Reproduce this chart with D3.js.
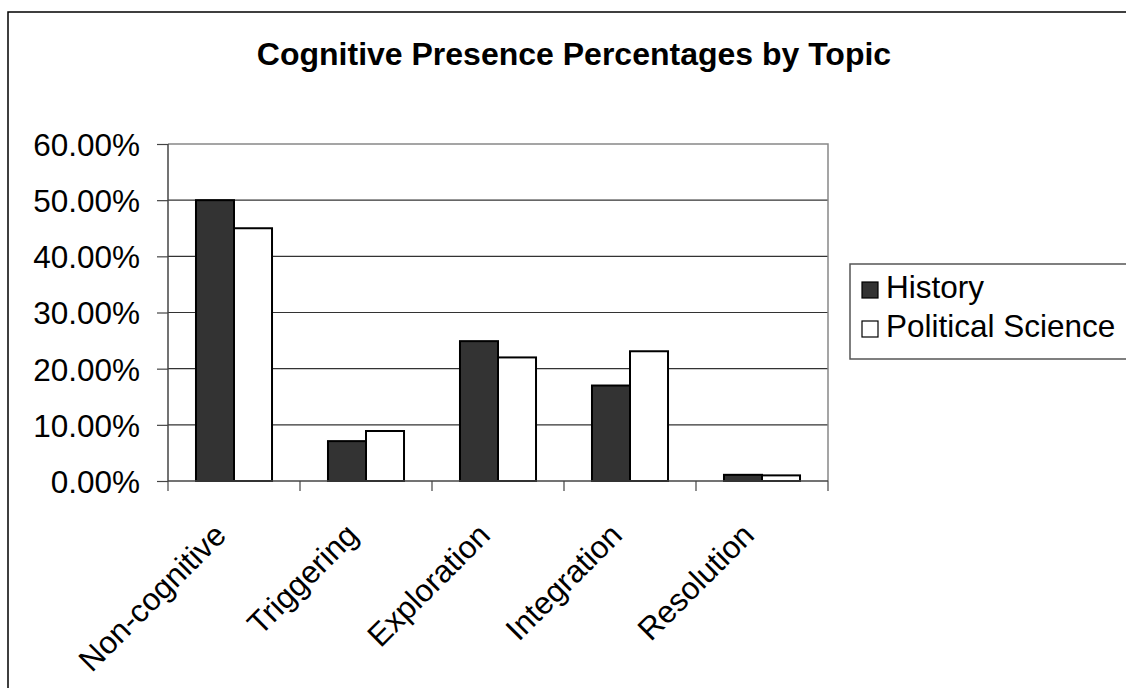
<!DOCTYPE html>
<html><head><meta charset="utf-8">
<script src="https://cdn.jsdelivr.net/npm/d3@7"></script>
<style>body{margin:0;background:#fff}svg{display:block}text{font-family:"Liberation Sans",Arial,sans-serif;fill:#000}</style>
</head><body>
<svg id="chart" width="1126" height="688"></svg>
<script>
const categories = ["Non-cognitive","Triggering","Exploration","Integration","Resolution"];
const seriesNames = ["History","Political Science"];
const history = [50.0, 7.1, 24.9, 17.0, 1.1];
const politicalScience = [45.0, 8.9, 22.0, 23.1, 1.0];
const yTicks = [0,10,20,30,40,50,60];
const title = "Cognitive Presence Percentages by Topic";
const fills = ["#333333","#ffffff"];

const svg = d3.select("#chart");
svg.append("rect").attr("x",8).attr("y",12).attr("width",1200).attr("height",800)
  .attr("fill","#fff").attr("stroke","#000").attr("stroke-width",1.5);

const L=168,R=828,T=144,B=481;
const x = d3.scaleBand().domain(categories).range([L,R]).paddingInner(0.424).paddingOuter(0.212);
const x0 = d3.scaleBand().domain(categories).range([L,R]);
const xs = d3.scaleBand().domain(seriesNames).range([0,x.bandwidth()]);
const y = d3.scaleLinear().domain([0,60]).range([B,T]);

// gridlines
svg.append("g").selectAll("line").data(yTicks.filter(d=>d>0&&d<60)).join("line")
  .attr("x1",L).attr("x2",R).attr("y1",d=>y(d)).attr("y2",d=>y(d))
  .attr("stroke","#333").attr("stroke-width",1.2);
// plot border top/right
svg.append("path").attr("d",`M${L},${T}H${R}V${B}`).attr("fill","none").attr("stroke","#888").attr("stroke-width",1.5);

// bars
const data = categories.map((c,i)=>({c, vals:[history[i],politicalScience[i]]}));
const g = svg.append("g");
data.forEach(d=>{
  d.vals.forEach((v,j)=>{
    g.append("rect").attr("x",x(d.c)+xs(seriesNames[j])).attr("y",y(v))
     .attr("width",xs.bandwidth()).attr("height",B-y(v))
     .attr("fill",fills[j]).attr("stroke","#000").attr("stroke-width",2);
  });
});

// y axis
const yAxis = d3.axisLeft(y).tickValues(yTicks).tickSize(11).tickPadding(17).tickFormat(d=>d.toFixed(2)+"%");
const ya = svg.append("g").attr("transform",`translate(${L},0)`).call(yAxis);
ya.select(".domain").attr("stroke","#444").attr("stroke-width",1.5).attr("d",`M0,${T}V${B}`);
ya.selectAll(".tick line").attr("stroke","#444").attr("stroke-width",1.2);
ya.selectAll("text").style("font-size","31.5px").attr("dy","0.36em");

// x axis
const xAxis = d3.axisBottom(x0).tickSize(0).tickFormat("");
const xa = svg.append("g").attr("transform",`translate(0,${B})`).call(xAxis);
xa.select(".domain").attr("stroke","#444").attr("stroke-width",1.5).attr("d",`M${L},0H${R}`);
xa.selectAll(".tick").remove();
xa.selectAll(".sep").data(d3.range(categories.length+1)).join("line")
  .attr("x1",i=>L+i*x0.step()).attr("x2",i=>L+i*x0.step()).attr("y1",0).attr("y2",10)
  .attr("stroke","#444").attr("stroke-width",1.2);
xa.selectAll(".lab").data(categories).join("text")
  .attr("transform",d=>`translate(${x0(d)+x0.bandwidth()/2-6},${56}) rotate(-45)`)
  .attr("text-anchor","end").style("font-size","31.5px").text(d=>d);

// title
svg.append("text").attr("x",574).attr("y",65).attr("text-anchor","middle")
  .style("font-size","32px").style("font-weight","bold").text(title);

// legend
const lg = svg.append("g");
lg.append("rect").attr("x",850).attr("y",264).attr("width",400).attr("height",95)
  .attr("fill","#fff").attr("stroke","#555").attr("stroke-width",1.5);
seriesNames.forEach((s,i)=>{
  lg.append("rect").attr("x",862).attr("y",282+i*39).attr("width",16).attr("height",16)
    .attr("fill",fills[i]).attr("stroke","#000").attr("stroke-width",1.2);
  lg.append("text").attr("x",886).attr("y",298+i*39).style("font-size","31.5px").text(s);
});
</script>
</body></html>
